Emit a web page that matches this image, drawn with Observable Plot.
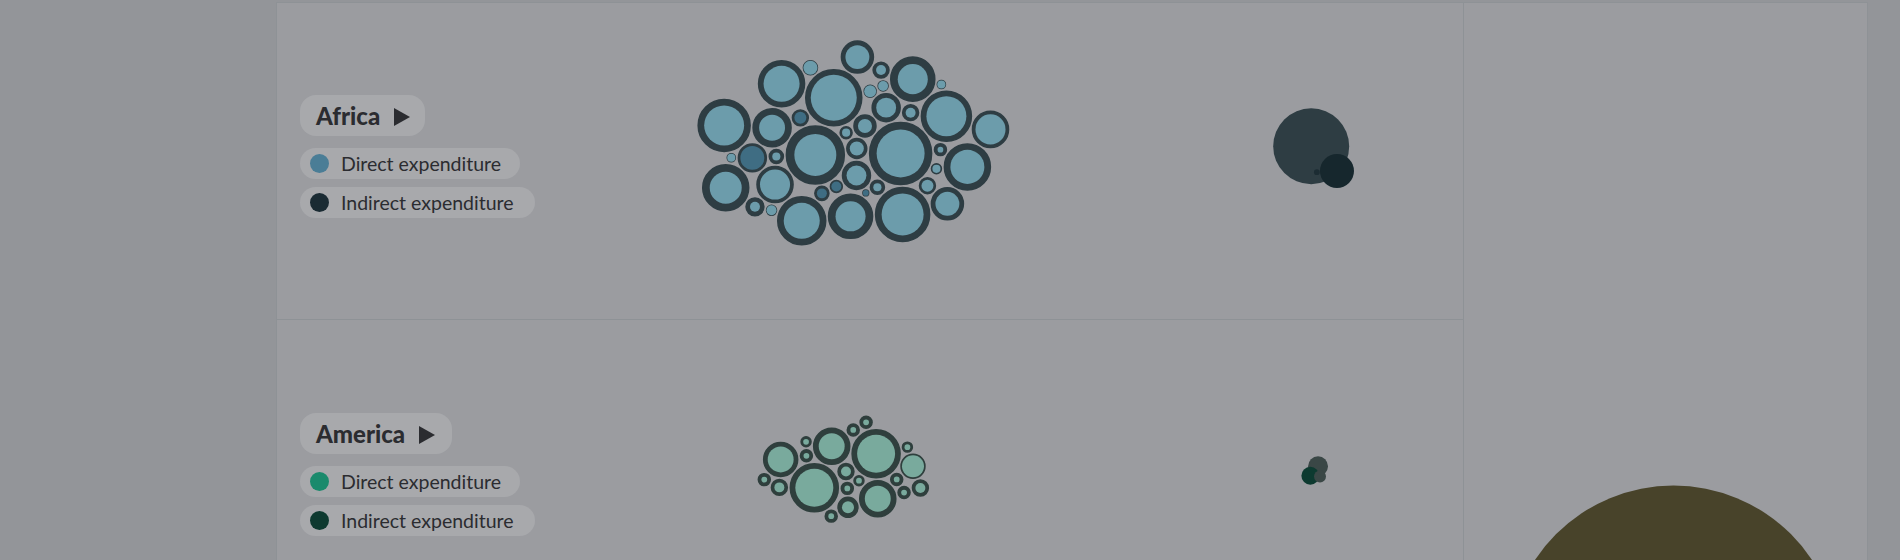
<!DOCTYPE html>
<html>
<head>
<meta charset="utf-8">
<script src="https://cdn.jsdelivr.net/npm/d3@7"></script>
<script src="https://cdn.jsdelivr.net/npm/@observablehq/plot@0.6"></script>
<style>
  html, body { margin: 0; padding: 0; overflow: hidden; background: #939599; }
  #wrap { position: relative; width: 1900px; height: 560px; font-family: Lato, "Open Sans", sans-serif; }
  .panel { position: absolute; background: #9b9ca0; border-left: 1px solid #8e9296; border-top: 1px solid #8e9296; box-sizing: border-box; }
  .hline { position: absolute; height: 1px; background: #8e9296; }
  #chart { position: absolute; left: 0; top: 0; }
  .pill { position: absolute; background: #a8a9ac; border-radius: 16px; box-sizing: border-box; color: #2b2c30; white-space: nowrap; }
  .title { font-weight: 900; font-size: 24px; padding-left: 16px; line-height: 41px; }
  .title .tri { display: inline-block; width: 0; height: 0; border-top: 9px solid transparent; border-bottom: 9px solid transparent; border-left: 16px solid #2b2c30; margin-left: 14px; vertical-align: -1px; }
  .item { font-size: 19.5px; padding-left: 41px; line-height: 31px; }
  .item .dot { position: absolute; left: 9.5px; top: 50%; width: 19px; height: 19px; margin-top: -9.5px; border-radius: 50%; }
</style>
</head>
<body>
<div id="wrap">
  <div class="panel" style="left:276px;top:2px;width:1188px;height:600px"></div>
  <div class="panel" style="left:1463px;top:2px;width:405px;height:600px;border-right:1px solid #8e9296"></div>
  <div class="hline" style="left:276px;top:319px;width:1187px"></div>
  <div id="chart"></div>
  <div id="legends"></div>
</div>
<script>
// valores (millones), círculo exterior = directo + indirecto
const africaDirect   = [82, 118, 52, 118, 105, 52, 9, 52, 9, 160, 192, 82, 209, 82, 6, 9, 36, 145, 61, 160, 145, 9, 9, 6, 13, 13, 18, 93, 82, 18, 9, 18, 13, 36, 6, 6, 6, 6, 9, 3, 3];
const africaIndirect = [94, 74, 41, 91, 87, 19, 14, 41, 0, 145, 93, 36, 140, 94, 0, 20, 35, 100, 70, 105, 82, 0, 9, 0, 10, 0, 0, 99, 36, 26, 4, 18, 10, 35, 12, 7, 3, 12, 14, 10, 0];
const africaPartner  = [5, 22, 30, 32, 40]; // índices con relleno azul oscuro

const americaDirect   = [131, 61, 61, 131, 61, 44, 13, 3, 9, 3, 9, 3, 9, 3, 3, 3, 3, 3, 3, 3, 3];
const americaIndirect = [78, 57, 44, 78, 57, 8, 23, 10, 14, 10, 14, 10, 14, 10, 10, 6, 10, 10, 6, 6, 10];

const africaSide  = [524, 105, 3];
const americaSide = [36, 13, 29];
const nextRegionTotal = [10000];

const regions = ["Africa", "America"];

// estilos
const colors = {
  Africa:  { ring: "#2e3d43", direct: "#6c9cab", partner: "#3f6d83", legendDirect: "#4a7d96", legendIndirect: "#1a2b33", side: ["#2e3d43", "#16272d", "#1c2c33"] },
  America: { ring: "#2f3f3d", direct: "#79aa9d", partner: "#79aa9d", legendDirect: "#1a8a6c", legendIndirect: "#0e3a30", side: ["#3a4746", "#3a4746", "#0d3a30"] },
  next: "#48432a"
};
const layout = {
  Africa:  { cx: 849, cy: 148, sx: 0.045, sy: 0.12, side: [1315, 150], legendTop: 95, titleW: 125 },
  America: { cx: 845, cy: 471, sx: 0.03, sy: 0.18, side: [1315, 471], legendTop: 413, titleW: 152 },
  sideAngle: -110 * Math.PI / 180,
  next: [1673, 651]
};

const rOptions = { type: "sqrt", domain: [0, 10000], range: [0, 166] };
const rScale = Plot.scale({ r: rOptions });

function packCluster(direct, indirect, partner, sx, sy) {
  const nodes = direct.map((d, i) => ({ id: i, direct: d, total: d + indirect[i], partner: partner.includes(i) }));
  nodes.sort((a, b) => b.total - a.total);
  nodes.forEach(n => n.R = rScale.apply(n.total));
  d3.forceSimulation(nodes)
    .force("x", d3.forceX(0).strength(sx))
    .force("y", d3.forceY(0).strength(sy))
    .force("collide", d3.forceCollide(d => d.R + 1.5).iterations(4))
    .stop()
    .tick(500);
  return nodes;
}

function packSide(values) {
  const nodes = values.map((v, i) => ({ id: i, total: v }));
  nodes.forEach(n => n.R = rScale.apply(n.total));
  d3.forceSimulation(nodes)
    .force("x", d3.forceX(0).strength(0.08))
    .force("y", d3.forceY(0).strength(0.08))
    .force("collide", d3.forceCollide(d => d.R * 0.65))
    .stop()
    .tick(300);
  const c = Math.cos(layout.sideAngle), s = Math.sin(layout.sideAngle);
  nodes.forEach(n => { const x = n.x, y = n.y; n.x = x * c - y * s; n.y = x * s + y * c; });
  return nodes;
}

const clusters = [];
const sides = [];
regions.forEach(region => {
  const L = layout[region];
  const direct = region === "Africa" ? africaDirect : americaDirect;
  const indirect = region === "Africa" ? africaIndirect : americaIndirect;
  const partner = region === "Africa" ? africaPartner : [];
  packCluster(direct, indirect, partner, L.sx, L.sy).forEach(n => clusters.push({ ...n, region, x: n.x + L.cx, y: n.y + L.cy }));
  const side = region === "Africa" ? africaSide : americaSide;
  packSide(side).forEach(n => sides.push({ ...n, region, x: n.x + L.side[0], y: n.y + L.side[1] }));
});
const nextRegion = nextRegionTotal.map(v => ({ total: v, x: layout.next[0], y: layout.next[1] }));

const chart = Plot.plot({
  width: 1900,
  height: 560,
  margin: 0,
  x: { domain: [0, 1900], range: [0, 1900], axis: null },
  y: { domain: [0, 560], range: [0, 560], axis: null },
  r: rOptions,
  style: { background: "transparent", overflow: "hidden" },
  marks: [
    Plot.dot(clusters, { x: "x", y: "y", r: "total", fill: d => colors[d.region].ring, stroke: d => colors[d.region].ring, strokeWidth: 1.5 }),
    Plot.dot(clusters, { x: "x", y: "y", r: "direct", fill: d => d.partner ? colors[d.region].partner : colors[d.region].direct }),
    Plot.dot(sides, { x: "x", y: "y", r: "total", fill: d => colors[d.region].side[d.id] }),
    Plot.dot(nextRegion, { x: "x", y: "y", r: "total", fill: colors.next })
  ]
});
document.getElementById("chart").append(chart);

// leyendas
const legends = d3.select("#legends");
regions.forEach(region => {
  const L = layout[region];
  const C = colors[region];
  legends.append("div").attr("class", "pill title")
    .style("left", "300px").style("top", L.legendTop + "px").style("width", L.titleW + "px").style("height", "41px")
    .html(`${region}<span class="tri"></span>`);
  [["Direct expenditure", C.legendDirect, 220, 53], ["Indirect expenditure", C.legendIndirect, 235, 92]].forEach(([label, col, w, dy]) => {
    const p = legends.append("div").attr("class", "pill item")
      .style("left", "300px").style("top", (L.legendTop + dy) + "px").style("width", w + "px").style("height", "31px")
      .text(label);
    p.append("span").attr("class", "dot").style("background", col);
  });
});
</script>
</body>
</html>
